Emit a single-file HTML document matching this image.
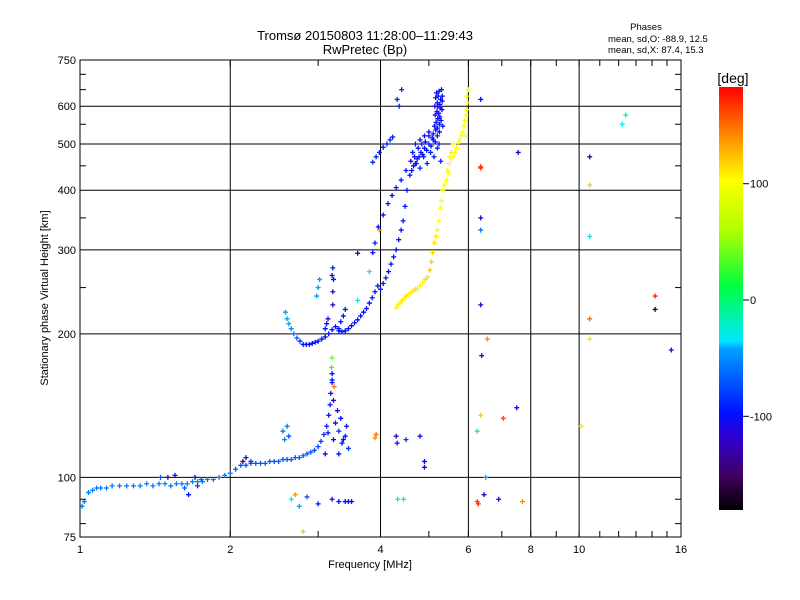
<!DOCTYPE html>
<html><head><meta charset="utf-8"><style>
body{margin:0;background:#fff}
svg{display:block;font-family:"Liberation Sans",sans-serif}
</style></head><body>
<svg id="c" width="800" height="600" viewBox="0 0 800 600">
<defs><linearGradient id="cb" x1="0" y1="1" x2="0" y2="0">
<stop offset="0" stop-color="#000"/><stop offset="0.08" stop-color="#400060"/><stop offset="0.17" stop-color="#3000d0"/><stop offset="0.23" stop-color="#0010ff"/><stop offset="0.38" stop-color="#00a0ff"/><stop offset="0.4" stop-color="#00e8ff"/><stop offset="0.53" stop-color="#00ff40"/><stop offset="0.66" stop-color="#b0ff00"/><stop offset="0.78" stop-color="#ffff00"/><stop offset="0.88" stop-color="#ff9000"/><stop offset="1" stop-color="#ff0000"/></linearGradient></defs>
<text x="365" y="40" text-anchor="middle" font-size="13">Tromsø 20150803 11:28:00–11:29:43</text>
<text x="365" y="54" text-anchor="middle" font-size="13">RwPretec (Bp)</text>
<text x="646" y="30" text-anchor="middle" font-size="9.5">Phases</text>
<text x="608" y="42" font-size="9.5">mean, sd,O: -88.9, 12.5</text>
<text x="608" y="53" font-size="9.5">mean, sd,X:  87.4, 15.3</text>
<g id="grid"></g>
<g id="pts"></g>
<rect x="80" y="60" width="601" height="477" fill="none" stroke="#000" stroke-width="1"/>
<g id="ax"></g>
<text x="370" y="568" text-anchor="middle" font-size="11">Frequency [MHz]</text>
<text transform="translate(48,298) rotate(-90)" text-anchor="middle" font-size="11">Stationary phase Virtual Height [km]</text>
<text x="733" y="83" text-anchor="middle" font-size="14">[deg]</text>
<rect x="719" y="87" width="24" height="423" fill="url(#cb)"/>
<g id="cbax"></g>
</svg>
<script>
const xTicks=[1,2,4,6,8,10,16];
const yTicks=[75,100,200,300,400,500,600,750];
const yGrid=[100,200,300,400,500,600];
const xGrid=[2,4,6,8,10];
const cbTicks=[100,0,-100];
// E trace
const eF=[1.01,1.02,1.04,1.06,1.08,1.1,1.13,1.16,1.2,1.24,1.28,1.32,1.36,1.4,1.44,1.48,1.52,1.56,1.6,1.64,1.68,1.72,1.76,1.8,1.85,1.9,1.95,2.0,2.05,2.1,2.15,2.2,2.25,2.3,2.35,2.4,2.45,2.5,2.55,2.6,2.65,2.7,2.75,2.8,2.85,2.9,2.95,3.0,3.04,3.08,3.12];
const eH=[87,89,93,94,95,95,95,96,96,96,96,96,97,96,97,97,96,97,97,97,98,98,98,99,99,100,101,102,104,106,106,107,107,107,107,108,108,108,109,109,109,110,110,111,112,113,114,116,119,123,128];
const eP=[-70,-70,-70,-70,-70,-70,-70,-70,-70,-70,-70,-70,-70,-70,-70,-70,-70,-70,-70,-70,-70,-70,-70,-70,-70,-70,-70,-70,-80,-80,-80,-80,-80,-80,-80,-80,-80,-80,-80,-80,-80,-80,-80,-80,-80,-80,-85,-85,-90,-90,-95];
// E scatter
const sF=[3.15,3.17,3.18,3.2,3.2,3.22,3.25,3.22,3.3,3.35,3.4,3.45,3.42,3.28,3.1,3.3,2.55,2.57,2.6,2.62,1.72,1.75,1.5,1.55,1.45,1.62,1.7,1.65,2.12,2.15,2.2,3.19,3.23,3.33,3.37,3.14,2.65,2.75,2.85,3.0,3.2,3.3,3.4,3.45,3.5,2.8,2.7,3.2,3.2,3.9,3.92,4.3,4.32,4.9,4.33];
const sH=[135,142,150,158,165,145,130,120,125,118,122,115,128,138,112,112,125,120,128,122,96,99,100,101,100,95,100,92,108,110,108,170,155,133,120,124,90,87,91,88,90,89,89,89,89,77,92,178,160,121,123,122,118,108,90];
const sP=[-100,-100,-110,-100,-100,-110,-100,-100,-90,-100,-100,-90,-100,-110,-100,-100,-70,-70,-70,-80,-90,-80,-120,-100,-80,-80,-100,-100,-140,-100,-90,20,150,-100,-100,-100,-50,-60,-80,-100,-100,-100,-100,-100,-100,120,140,40,-100,140,150,-110,-100,-100,-30];
// F O-trace
const oF=[2.58,2.6,2.62,2.65,2.68,2.72,2.76,2.8,2.84,2.88,2.92,2.96,3.0,3.05,3.1,3.15,3.2,3.25,3.3,3.35,3.4,3.45,3.5,3.55,3.6,3.65,3.7,3.75,3.8,3.85,3.9,3.95,4.0,4.05,4.1,4.15,4.2,4.25,4.3,4.35,4.4,4.44,4.48,4.52,3.86,3.9,3.96,4.05,4.14,4.22,4.3,4.4,4.5,3.86,3.92,3.98,4.05,4.12,4.18,4.23,4.32,4.36,4.41,3.21,3.21,3.22,3.21,3.2,3.1,3.12,3.14,3.3,3.33,3.37,3.4,2.98,3.0,3.02,3.6,3.6];
const oH=[222,215,210,205,200,196,193,190,190,190,191,192,193,195,197,200,204,207,203,202,203,205,208,211,214,218,222,226,232,238,245,252,248,255,262,270,280,290,300,315,330,345,370,400,296,310,335,355,375,390,405,420,440,458,470,480,492,500,510,517,620,600,650,230,245,260,275,265,205,210,215,205,212,218,225,240,250,260,235,295];
const oP=[-60,-60,-60,-65,-70,-80,-90,-100,-100,-100,-100,-100,-100,-100,-100,-100,-100,-100,-100,-100,-100,-100,-100,-100,-100,-100,-100,-100,-100,-100,-100,-100,-100,-100,-100,-100,-100,-100,-100,-100,-100,-100,-100,-100,-100,-100,-100,-100,-100,-100,-100,-100,-100,-95,-95,-95,-95,-95,-95,-95,-95,-95,-95,-110,-110,-100,-100,-110,-100,-100,-110,-100,-100,-100,-100,-60,-60,-60,-40,-130];
// O cluster
const cF=[4.58,4.62,4.66,4.7,4.74,4.78,4.82,4.86,4.9,4.95,5.0,5.05,5.1,5.15,5.2,5.25,4.6,4.68,4.76,4.84,4.92,5.0,5.08,5.16,5.24,4.64,4.72,4.8,4.88,4.96,5.04,5.12,5.2,5.28,4.7,4.8,4.9,5.0,5.1,5.2,5.13,5.17,5.21,5.25,5.29,5.33,5.15,5.19,5.23,5.27,5.31,5.14,5.2,5.26,5.32,5.16,5.22,5.28,5.18,5.24,5.3,5.2,5.26,5.32];
const cH=[430,440,450,455,465,470,480,475,490,485,500,495,510,505,520,530,460,470,490,500,505,520,515,535,500,480,455,445,470,455,480,470,490,460,500,510,520,530,525,540,545,555,565,550,560,545,575,585,580,595,590,600,610,605,615,625,630,620,640,645,650,600,570,630];
const cP=[-100,-100,-100,-100,-100,-100,-100,-100,-100,-100,-100,-100,-100,-100,-100,-100,-105,-105,-105,-105,-105,-105,-105,-105,-105,-95,-95,-95,-95,-95,-95,-95,-95,-95,-100,-100,-100,-100,-100,-100,-100,-100,-100,-100,-100,-100,-105,-105,-105,-105,-105,-105,-105,-105,-105,-100,-100,-100,-100,-100,-100,-100,-100,-100];
// X trace
const xF=[4.3,4.34,4.38,4.42,4.46,4.5,4.55,4.6,4.65,4.7,4.74,4.8,4.86,4.92,4.97,5.02,5.06,5.09,5.13,5.17,5.2,5.24,5.27,5.3,5.33,5.37,5.42,5.47,5.5,5.55,5.6,5.64,5.68,5.72,5.76,5.8,5.84,5.88,5.9,5.93,5.95,5.98,6.0,5.96,5.92,5.55,5.6,5.45,5.5];
const xH=[227,230,232,235,237,240,242,244,246,248,248,252,256,260,263,272,283,296,310,320,330,345,367,380,400,410,420,435,455,465,470,480,490,502,510,520,530,545,560,575,590,610,650,630,520,480,500,440,470];
const xP=[105,105,105,110,105,110,105,105,110,110,105,105,105,110,110,120,120,115,110,105,100,100,100,100,100,100,100,100,100,100,100,100,100,100,100,100,100,100,100,100,100,100,100,100,100,105,100,100,100];
// outliers
const uF=[6.35,6.35,6.35,6.35,6.35,6.55,6.35,7.05,6.25,7.5,7.55,10.5,10.5,10.5,10.5,10.5,12.2,12.4,14.2,14.2,15.3,6.35,6.45,6.9,7.7,6.25,10.1,6.28,6.5,3.8,3.98,4.45,4.5,4.9,4.8,6.38];
const uH=[620,445,350,330,230,195,135,133,125,140,480,470,410,320,215,195,550,575,240,225,185,448,92,90,89,89,128,88,100,270,330,90,120,105,122,180];
const uP=[-100,160,-110,-70,-110,140,120,160,-40,-100,-120,-130,120,-40,150,110,-40,-30,170,-160,-100,170,-120,-120,140,160,110,170,-60,-30,130,-40,-90,-110,-100,-120];
const groups=[[eF,eH,eP],[sF,sH,sP],[oF,oH,oP],[cF,cH,cP],[xF,xH,xP],[uF,uH,uP]];

const X0=80,PX=150.25,Y0=537,PY=477;
const sx=f=>X0+PX*Math.log2(f);
const sy=h=>Y0-PY*Math.log10(h/75);
const cy=p=>300-p*1.163;
const NS="http://www.w3.org/2000/svg";
function mk(t,a,parent){const e=document.createElementNS(NS,t);for(const k in a)e.setAttribute(k,a[k]);parent.appendChild(e);return e;}
const stops=[[-180,[0,0,0]],[-150,[64,0,96]],[-110,[48,0,208]],[-100,[0,16,255]],[-60,[0,160,255]],[-50,[0,232,255]],[10,[0,255,64]],[60,[176,255,0]],[100,[255,255,0]],[140,[255,144,0]],[180,[255,0,0]]];
function col(p){for(let i=1;i<stops.length;i++){if(p<=stops[i][0]){const a=stops[i-1],b=stops[i];const t=(p-a[0])/(b[0]-a[0]);return 'rgb('+a[1].map((v,j)=>Math.round(v+(b[1][j]-v)*t)).join(',')+')';}}return 'rgb(255,0,0)';}

const grid=document.getElementById('grid'),ax=document.getElementById('ax'),pts=document.getElementById('pts'),cbax=document.getElementById('cbax');
yGrid.forEach(v=>{const l=mk('line',{x1:80,x2:681,y1:sy(v),y2:sy(v),stroke:'#000','stroke-width':1},grid);

});
xGrid.forEach(v=>{const l=mk('line',{x1:sx(v),x2:sx(v),y1:60,y2:537,stroke:'#000','stroke-width':1},grid);

});
for(let f=1;f<=16;f++){mk('line',{x1:sx(f),x2:sx(f),y1:537,y2:531,stroke:'#000'},ax);mk('line',{x1:sx(f),x2:sx(f),y1:60,y2:66,stroke:'#000'},ax);}
[80,90,250,350,450,550,650,700].forEach(h=>{mk('line',{x1:80,x2:86,y1:sy(h),y2:sy(h),stroke:'#000'},ax);mk('line',{x1:681,x2:675,y1:sy(h),y2:sy(h),stroke:'#000'},ax);});
xTicks.forEach(v=>{const t=mk('text',{x:sx(v),y:553,'text-anchor':'middle','font-size':11},ax);t.textContent=v;

});
yTicks.forEach(v=>{const t=mk('text',{x:76,y:sy(v)+4,'text-anchor':'end','font-size':11},ax);t.textContent=v;

});
cbTicks.forEach(v=>{mk('line',{x1:743,x2:749,y1:cy(v),y2:cy(v),stroke:'#000'},cbax);const t=mk('text',{x:750,y:cy(v)+4,'font-size':11},cbax);t.textContent=v;

});
groups.forEach(g=>{for(let i=0;i<g[0].length;i++){const x=sx(g[0][i]),y=sy(g[1][i]);
const p=mk('path',{d:`M${x-2.5} ${y}h5M${x} ${y-2.5}v5`,stroke:col(g[2][i]),'stroke-width':1.3},pts);

}});
</script>
</body></html>
